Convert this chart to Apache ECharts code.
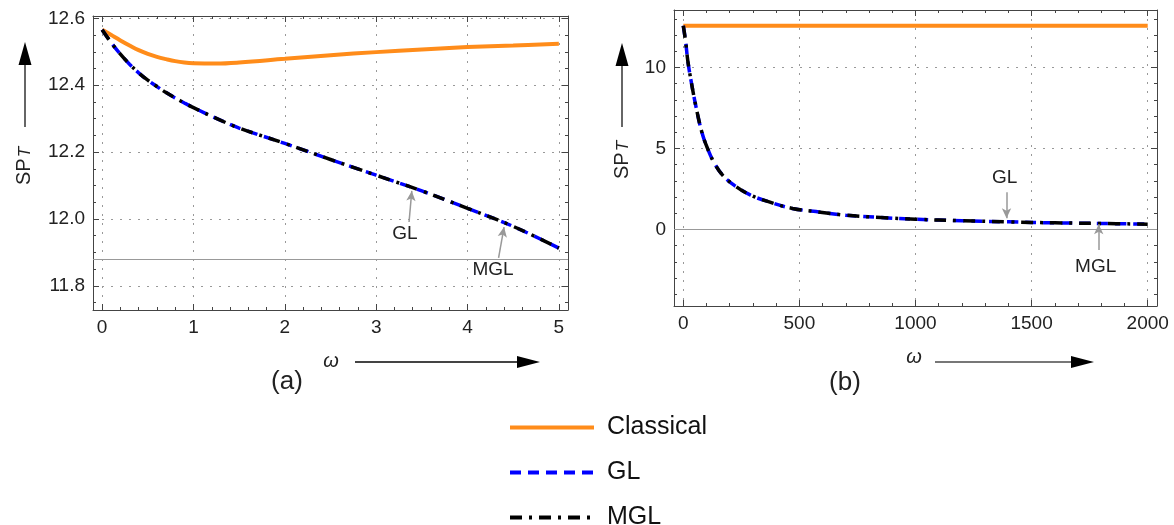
<!DOCTYPE html>
<html>
<head>
<meta charset="utf-8">
<script src="https://cdn.jsdelivr.net/npm/echarts@6/dist/echarts.min.js"></script>
<style>
  html, body { margin: 0; padding: 0; background: #fff; }
  #chart { width: 1174px; height: 525px; }
</style>
</head>
<body>
<div id="chart"></div>
<script>
// panel (a): small omega
var omegaA = [0, 0.1, 0.2, 0.3, 0.4, 0.5, 0.6, 0.7, 0.8, 0.9, 1.0, 1.25, 1.5, 2, 2.5, 3, 3.5, 4, 4.5, 5];
var classicalA = [12.566, 12.550, 12.534, 12.519, 12.505, 12.494, 12.485, 12.478, 12.472, 12.468, 12.466, 12.465, 12.468, 12.479, 12.490, 12.499, 12.507, 12.514, 12.519, 12.524];
var glA = [12.566, 12.527, 12.493, 12.463, 12.437, 12.415, 12.396, 12.378, 12.362, 12.347, 12.333, 12.301, 12.272, 12.226, 12.178, 12.131, 12.084, 12.032, 11.978, 11.913];
var mglA = [12.566, 12.527, 12.493, 12.463, 12.437, 12.415, 12.396, 12.378, 12.362, 12.347, 12.333, 12.301, 12.272, 12.226, 12.178, 12.131, 12.084, 12.032, 11.978, 11.913];

// panel (b): large omega
var omegaClassicalB = [0, 2000];
var classicalB = [12.566, 12.566];
var omegaB = [0, 10, 20, 35, 55, 80, 105, 135, 170, 220, 290, 370, 470, 590, 700, 850, 1000, 1200, 1400, 1600, 1800, 2000];
var glB = [12.566, 11.6, 10.35, 9.05, 7.55, 6.0, 4.98, 4.06, 3.34, 2.72, 2.12, 1.70, 1.30, 1.07, 0.88, 0.74, 0.63, 0.54, 0.47, 0.41, 0.37, 0.33];
var mglB = [12.566, 11.6, 10.35, 9.05, 7.55, 6.0, 4.98, 4.06, 3.34, 2.72, 2.12, 1.70, 1.30, 1.07, 0.88, 0.74, 0.63, 0.54, 0.47, 0.41, 0.37, 0.33];

// ticks
var ticksAx = [0, 1, 2, 3, 4, 5];
var ticksAy = [11.8, 12.0, 12.2, 12.4, 12.6];
var ticksBx = [0, 500, 1000, 1500, 2000];
var ticksBy = [0, 5, 10];

// horizontal axis lines drawn inside the frames
var baseLineA = 11.88;
var baseLineB = 0;

var FONT = 'Liberation Sans, Arial, sans-serif';
var ORANGE = '#FF8C1A';
var BLUE = '#0000FF';
var GL_DASH = [11, 7];
var MGL_DASH = [12, 7, 3, 7];

function minorSteps(from, to, step) {
  var out = [];
  for (var v = from; v <= to + step / 2; v += step) out.push(+v.toFixed(4));
  return out;
}

function pairs(xs, ys) {
  return xs.map(function (x, i) { return [x, ys[i]]; });
}

// frame axes: main side with labels + grid, opposite side ticks only, each with a minor tick twin
function frameAxes(grid, dim, min, max, major, minor, fmt) {
  var sides = dim === 'x' ? ['bottom', 'top'] : ['left', 'right'];
  var axes = [];
  sides.forEach(function (side, s) {
    [major, minor].forEach(function (ticks, k) {
      var isMajor = k === 0;
      axes.push({
        type: 'value',
        gridIndex: grid,
        position: side,
        min: min,
        max: max,
        axisLine: { show: isMajor, onZero: false, lineStyle: { color: '#444', width: 1 } },
        axisTick: { show: true, inside: true, length: isMajor ? 6 : 3, customValues: ticks, lineStyle: { color: '#444', width: 1 } },
        axisLabel: { show: isMajor && s === 0, customValues: major, formatter: fmt, fontSize: 19, color: '#222', fontFamily: FONT, margin: 8 },
        splitLine: { show: isMajor && s === 0, lineStyle: { color: '#999', type: [2, 7], width: 1 } },
        axisPointer: { show: false }
      });
    });
  });
  return axes;
}

var fmtInt = function (v) { return String(v); };
var fmtOne = function (v) { return v.toFixed(1); };

var xAxes = frameAxes(0, 'x', -0.1, 5.1, ticksAx, minorSteps(0, 5, 0.2), fmtInt)
  .concat(frameAxes(1, 'x', -40, 2040, ticksBx, minorSteps(0, 2000, 100), fmtInt));
var yAxes = frameAxes(0, 'y', 11.728, 12.607, ticksAy, minorSteps(11.75, 12.6, 0.05), fmtOne)
  .concat(frameAxes(1, 'y', -4.72, 13.54, ticksBy, minorSteps(-4, 13, 1), fmtInt));

function baseLine(value) {
  return {
    silent: true, symbol: 'none', label: { show: false },
    lineStyle: { color: '#999', type: 'solid', width: 1.2 },
    data: [{ yAxis: value }]
  };
}

function pointer(from, to) {
  return {
    silent: true, symbol: ['none', 'arrow'], symbolSize: [7, 10], label: { show: false },
    lineStyle: { color: '#999', type: 'solid', width: 1.5 },
    data: [[{ coord: from }, { coord: to }]]
  };
}

function tag(list) {
  return {
    silent: true, symbol: 'rect', symbolSize: 1,
    itemStyle: { color: 'rgba(0,0,0,0)' },
    label: { show: true, position: 'inside', fontSize: 19, color: '#222', fontFamily: FONT,
      formatter: function (p) { return p.name; } },
    data: list
  };
}

function lineSeries(name, xi, yi, data, color, type, width, extra) {
  var s = {
    name: name, type: 'line', xAxisIndex: xi, yAxisIndex: yi,
    data: data, symbol: 'none', showSymbol: false,
    smooth: 0.4,
    lineStyle: { color: color, width: width, type: type, cap: 'butt' },
    itemStyle: { color: color }
  };
  for (var k in extra) s[k] = extra[k];
  return s;
}

var series = [
  lineSeries('Classical', 0, 0, pairs(omegaA, classicalA), ORANGE, 'solid', 4, { markLine: baseLine(baseLineA) }),
  lineSeries('GL', 0, 0, pairs(omegaA, glA), BLUE, GL_DASH, 3.5, {
    markLine: pointer([3.36, 11.991], [3.39, 12.084]),
    markPoint: tag([{ name: 'GL', coord: [3.315, 11.955] }])
  }),
  lineSeries('MGL', 0, 0, pairs(omegaA, mglA), '#000', MGL_DASH, 3.5, {
    markLine: pointer([4.34, 11.884], [4.40, 11.976]),
    markPoint: tag([{ name: 'MGL', coord: [4.28, 11.848] }])
  }),
  lineSeries('Classical', 4, 4, pairs(omegaClassicalB, classicalB), ORANGE, 'solid', 4, { markLine: baseLine(baseLineB) }),
  lineSeries('GL', 4, 4, pairs(omegaB, glB), BLUE, GL_DASH, 3.5, {
    markLine: pointer([1392, 2.29], [1392, 0.69]),
    markPoint: tag([{ name: 'GL', coord: [1384, 3.22] }])
  }),
  lineSeries('MGL', 4, 4, pairs(omegaB, mglB), '#000', MGL_DASH, 3.5, {
    markLine: pointer([1789, -1.27], [1789, 0.33]),
    markPoint: tag([{ name: 'MGL', coord: [1776, -2.32] }])
  })
];

function spLabel(x, y) {
  return {
    type: 'text', x: x, y: y, rotation: Math.PI / 2, silent: true,
    style: {
      text: '{a|SP}{b|T}', textAlign: 'center', textVerticalAlign: 'middle', verticalAlign: 'middle',
      rich: {
        a: { fontSize: 20, fontFamily: FONT, fill: '#222', lineHeight: 20, verticalAlign: 'top' },
        b: { fontSize: 17, fontFamily: FONT, fontStyle: 'italic', fill: '#222', lineHeight: 17, verticalAlign: 'bottom', padding: [10, 0, 0, 1] }
      }
    }
  };
}

function upArrow(x, yTail, yTip) {
  return [
    { type: 'line', silent: true, shape: { x1: x, y1: yTail, x2: x, y2: yTip + 18 }, style: { stroke: '#333', lineWidth: 1.5 } },
    { type: 'polygon', silent: true, shape: { points: [[x, yTip], [x - 6.5, yTip + 23], [x + 6.5, yTip + 23]] }, style: { fill: '#000' } }
  ];
}

function rightArrow(xTail, xTip, y, shaft) {
  return [
    { type: 'line', silent: true, shape: { x1: xTail, y1: y, x2: xTip - 18, y2: y }, style: { stroke: shaft, lineWidth: 2 } },
    { type: 'polygon', silent: true, shape: { points: [[xTip, y], [xTip - 23, y - 6], [xTip - 23, y + 6]] }, style: { fill: '#000' } }
  ];
}

function plainText(x, y, text, size, italic) {
  return {
    type: 'text', x: x, y: y, silent: true,
    style: { text: text, fontSize: size, fontFamily: FONT, fontStyle: italic ? 'italic' : 'normal', fill: '#222',
      textAlign: 'center', textVerticalAlign: 'middle', verticalAlign: 'middle' }
  };
}

var graphics = [spLabel(24, 166), spLabel(622, 160)]
  .concat(upArrow(25, 127, 42), upArrow(622, 127, 43))
  .concat(rightArrow(355, 540, 362, '#444'), rightArrow(935, 1094, 362, '#777'))
  .concat([
    plainText(331, 361, 'ω', 20, true),
    plainText(914, 357, 'ω', 20, true),
    plainText(287, 382, '(a)', 26, false),
    plainText(845, 383, '(b)', 26, false)
  ]);

var chart = echarts.init(document.getElementById('chart'));
chart.setOption({
  animation: false,
  backgroundColor: '#fff',
  grid: [
    { left: 93, top: 16, width: 475, height: 294, outerBoundsMode: 'none' },
    { left: 674, top: 10, width: 483, height: 296, outerBoundsMode: 'none' }
  ],
  xAxis: xAxes,
  yAxis: yAxes,
  legend: {
    data: ['Classical', 'GL', 'MGL'],
    orient: 'vertical',
    left: 508,
    top: 415,
    height: 160,
    padding: 0,
    itemWidth: 84,
    itemHeight: 20,
    itemGap: 20,
    selectedMode: false,
    itemStyle: { opacity: 0, borderWidth: 0 },
    lineStyle: { width: 4 },
    textStyle: { fontSize: 25, color: '#111', fontFamily: FONT, lineHeight: 20, padding: [0, 0, 0, 8] }
  },
  graphic: graphics,
  series: series
});
</script>
</body>
</html>
